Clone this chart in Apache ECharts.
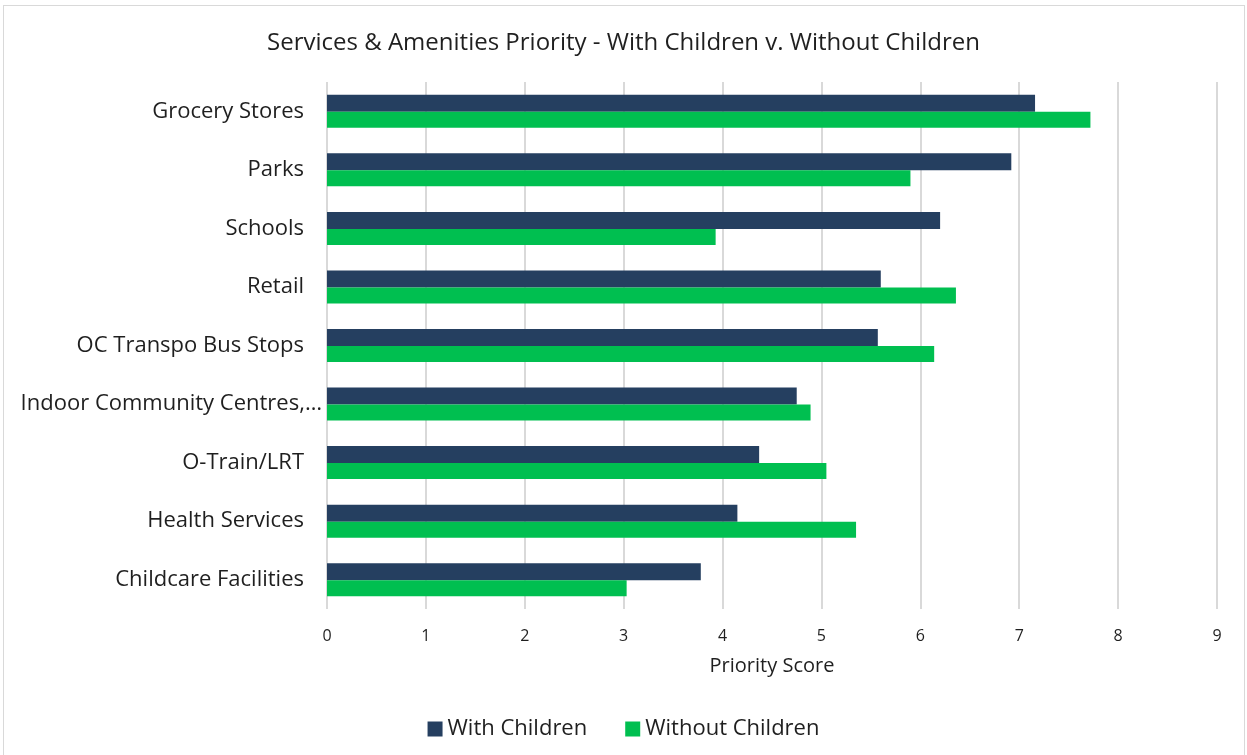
<!DOCTYPE html>
<html>
<head>
<meta charset="utf-8">
<script src="https://cdn.jsdelivr.net/npm/echarts@6/dist/echarts.min.js"></script>
<style>
html,body{margin:0;padding:0;background:#fff;}
#frame{position:absolute;left:3px;top:5px;width:1242px;height:760px;border:1px solid #d9d9d9;box-sizing:border-box;}
#chart{position:absolute;left:0;top:0;width:1247px;height:755px;}
</style>
</head>
<body>
<div id="frame"></div>
<div id="chart"></div>
<script>
const categories = ["Grocery Stores","Parks","Schools","Retail","OC Transpo Bus Stops","Indoor Community Centres,…","O-Train/LRT","Health Services","Childcare Facilities"];
const withChildren = [7.16, 6.92, 6.20, 5.60, 5.57, 4.75, 4.37, 4.15, 3.78];
const withoutChildren = [7.72, 5.90, 3.93, 6.36, 6.14, 4.89, 5.05, 5.35, 3.03];
const xTicks = [0,1,2,3,4,5,6,7,8,9];
const truncatedLabel = "Indoor Community Centres,…";

const chart = echarts.init(document.getElementById('chart'), null, {renderer:'canvas'});
const font = "'Open Sans', sans-serif";
chart.setOption({
  animation:false,
  title:{text:"Services & Amenities Priority - With Children v. Without Children",left:'center',top:26,
    textStyle:{fontFamily:font,fontSize:24,fontWeight:'normal',color:'#1f1f1f'}},
  legend:{bottom:10,left:'center',itemWidth:15,itemHeight:15,itemGap:38,icon:'rect',
    textStyle:{fontFamily:font,fontSize:22,color:'#1f1f1f'},
    data:["With Children","Without Children"]},
  grid:{left:327,right:30,top:82,bottom:146},
  xAxis:{type:'value',min:xTicks[0],max:xTicks[xTicks.length-1],interval:1,
    name:'Priority Score',nameLocation:'middle',nameGap:47,
    nameTextStyle:{fontFamily:font,fontSize:20,color:'#1f1f1f'},
    axisLine:{show:false},axisTick:{show:false},
    axisLabel:{fontFamily:font,fontSize:16,color:'#1f1f1f',margin:19},
    splitLine:{lineStyle:{color:'#d9d9d9',width:2}}},
  yAxis:{type:'category',data:categories,inverse:true,
    axisLine:{show:false},axisTick:{show:false},
    axisLabel:{margin:5,
      formatter:function(v){return v===truncatedLabel ? '{t|'+v+'}' : '{n|'+v+'}';},
      rich:{
        n:{fontFamily:font,fontSize:22,color:'#1f1f1f',padding:[0,18,0,0]},
        t:{fontFamily:font,fontSize:22,color:'#1f1f1f',padding:[0,0,0,0]}
      }}},
  series:[
    {name:"With Children",type:'bar',data:withChildren,barWidth:17,barGap:'0%',barCategoryGap:'44%',
      itemStyle:{color:'#253F60'}},
    {name:"Without Children",type:'bar',data:withoutChildren,barWidth:16,
      itemStyle:{color:'#00BF50'}}
  ]
});
</script>
</body>
</html>
